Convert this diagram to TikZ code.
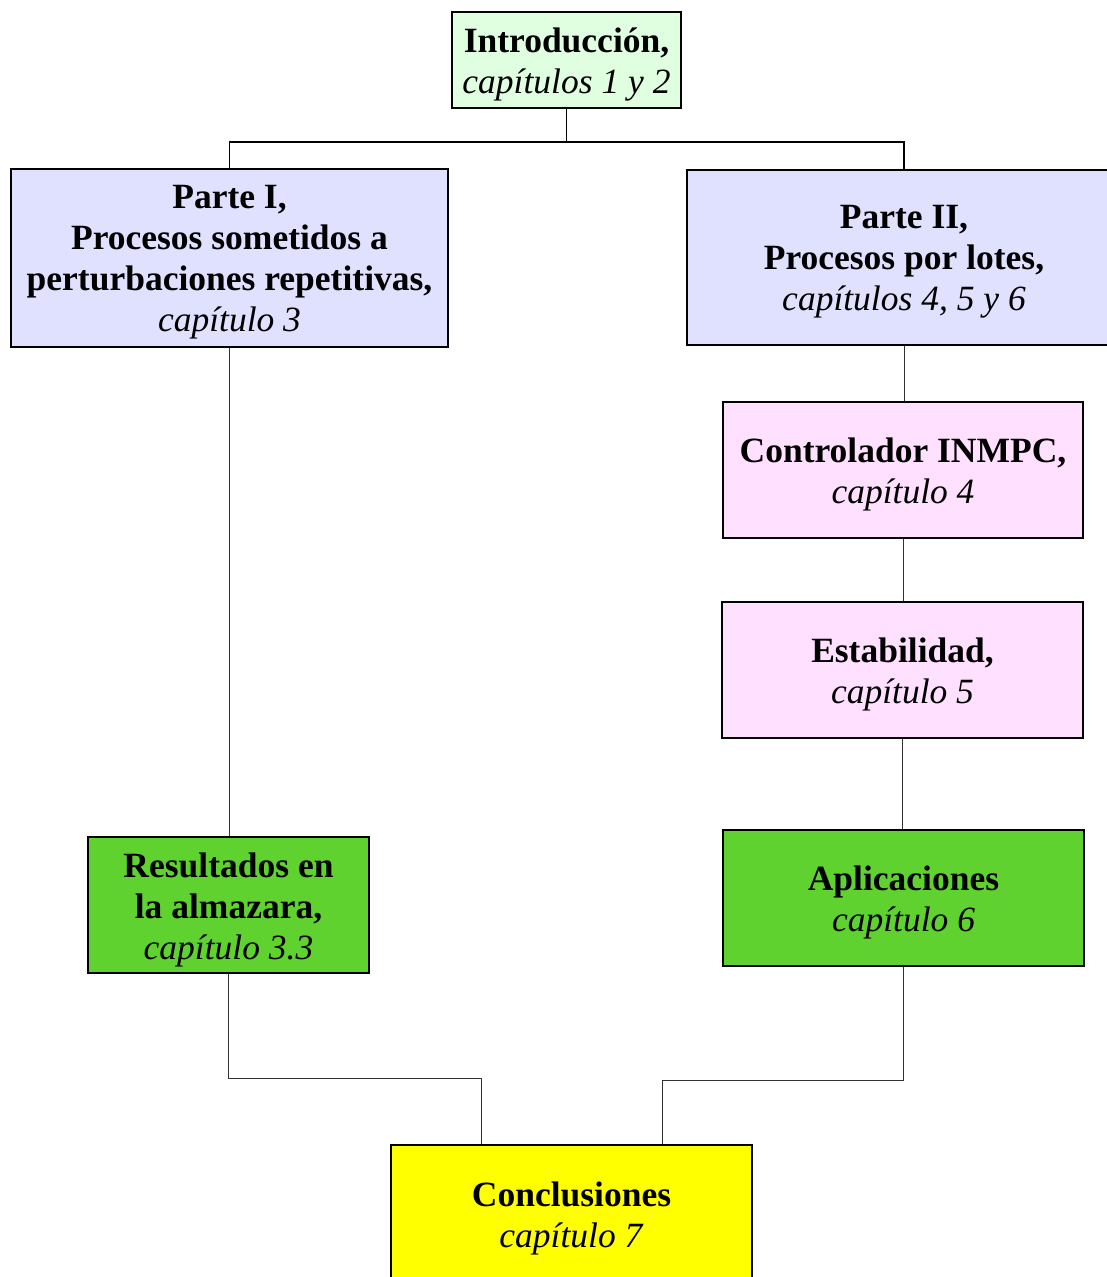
\documentclass[tikz,border=0pt]{standalone}
\usepackage{fontspec}
\setmainfont{Liberation Serif}
\definecolor{introfill}{HTML}{E0FFE0}
\definecolor{partfill}{HTML}{E0E0FF}
\definecolor{pinkfill}{HTML}{FFE0FF}
\definecolor{greenfill}{HTML}{5FD22F}
\definecolor{yellowfill}{HTML}{FFFF00}
\definecolor{linegray}{HTML}{333333}
\begin{document}
\begin{tikzpicture}[x=1pt,y=-1pt,
  box/.style={draw=black,line width=1.6pt,rectangle,inner sep=0pt},
  txt/.style={align=center,inner sep=0pt,font=\fontsize{35.5}{41}\selectfont},
  thin/.style={draw=linegray,line width=0.9pt},
  thick/.style={draw=black,line width=1.8pt}]
\useasboundingbox (0,0) rectangle (1107,1277);
\node[box,fill=introfill,minimum width=229pt,minimum height=96pt] (intro) at (566.5,60) {};
\node[box,fill=partfill,minimum width=437pt,minimum height=178pt] (p1) at (229.5,258) {};
\node[box,fill=partfill,minimum width=434pt,minimum height=175pt] (p2) at (904,257.5) {};
\node[box,fill=pinkfill,minimum width=360pt,minimum height=136pt] (ctrl) at (903,470) {};
\node[box,fill=pinkfill,minimum width=361pt,minimum height=136pt] (est) at (902.5,670) {};
\node[box,fill=greenfill,minimum width=361pt,minimum height=136pt] (apl) at (903.5,898) {};
\node[box,fill=greenfill,minimum width=281pt,minimum height=136pt] (res) at (228.5,905) {};
\node[box,fill=yellowfill,minimum width=361pt,minimum height=136pt] (conc) at (571.5,1213) {};
% texts
\node[txt] (introT) at ([yshift=-4.5pt]intro.center)
  {\textbf{Introducción,}\\\textit{capítulos 1 y 2}};
\node[txt] (p1T) at ([yshift=-4.5pt]p1.center)
  {\textbf{Parte I,}\\\textbf{Procesos sometidos a}\\\textbf{perturbaciones repetitivas,}\\\textit{capítulo 3}};
\node[txt] (p2T) at ([yshift=-4.5pt]p2.center)
  {\textbf{Parte II,}\\\textbf{Procesos por lotes,}\\\textit{capítulos 4, 5 y 6}};
\node[txt] (ctrlT) at ([yshift=-4pt]ctrl.center)
  {\textbf{Controlador INMPC,}\\\textit{capítulo 4}};
\node[txt] (estT) at ([yshift=-4pt]est.center)
  {\textbf{Estabilidad,}\\\textit{capítulo 5}};
\node[txt] (aplT) at ([yshift=-4.5pt]apl.center)
  {\textbf{Aplicaciones}\\\textit{capítulo 6}};
\node[txt] (resT) at ([yshift=-4.5pt]res.center)
  {\textbf{Resultados en}\\\textbf{la almazara,}\\\textit{capítulo 3.3}};
\node[txt] (concT) at ([yshift=-5pt]conc.center)
  {\textbf{Conclusiones}\\\textit{capítulo 7}};
% connectors
\draw[thick] (intro.south) -- ++(0,33) -| (p1.north);
\draw[thick] (intro.south) -- ++(0,33) -| (p2.north);
\draw[thin] (p1.south) -- (p1.south |- res.north);
\draw[thin] (p2.south) -- (p2.south |- ctrl.north);
\draw[thin] (ctrl.south) -- (ctrl.south |- est.north);
\draw[thin] (est.south) -- (est.south |- apl.north);
\draw[thin] (res.south) -- ++(0,105) -| ([xshift=-90.5pt]conc.north);
\draw[thin] (apl.south) -- ++(0,114) -| ([xshift=90.5pt]conc.north);
\end{tikzpicture}
\end{document}
